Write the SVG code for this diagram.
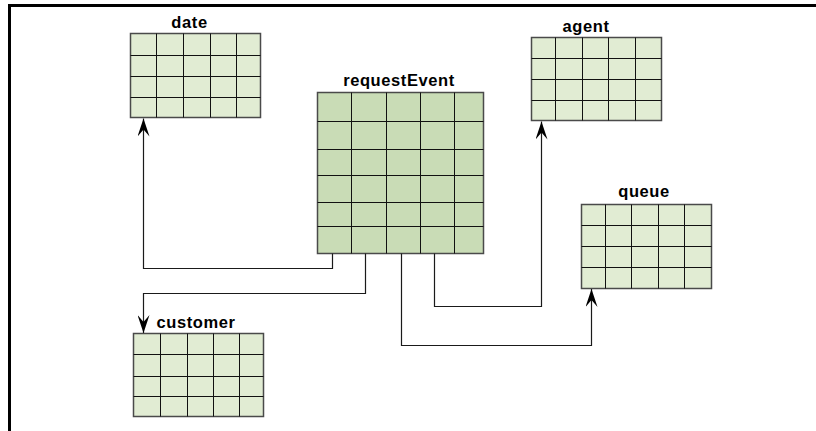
<svg xmlns="http://www.w3.org/2000/svg" width="816" height="431" viewBox="0 0 816 431">
  <style>
    .frame { fill: none; stroke: #000; stroke-width: 3; }
    .tbl { fill: #e1ecd3; stroke: #4a4a4a; stroke-width: 1.5; }
    .tbl.main { fill: #c9dcb6; }
    .grid { fill: none; stroke: #111; stroke-width: 1; }
    .title { font-family: "Liberation Sans", Arial, sans-serif; font-weight: bold; font-size: 16.5px; letter-spacing: 0.6px; fill: #000; text-anchor: middle; }
    .conn { fill: none; stroke: #1a1a1a; stroke-width: 1.2; }
  </style>
  <defs>
    <marker id="arrow" viewBox="0 0 18 12" refX="18" refY="6" markerWidth="18" markerHeight="12" markerUnits="userSpaceOnUse" orient="auto">
      <path d="M18,6 L0,0 L7,6 L0,12 Z" fill="#000"/>
    </marker>
  </defs>

  <rect width="816" height="431" fill="#fff"/>
  <path class="frame" d="M9.5,431 V5.5 H816"/>

  <g id="date">
    <text class="title" x="189.5" y="28">date</text>
    <rect class="tbl" x="130.5" y="33.5" width="130" height="84"/>
    <path class="grid" d="M156.5,33.5 V117.5 M183.5,33.5 V117.5 M210.5,33.5 V117.5 M236.5,33.5 V117.5 M130.5,55.5 H260.5 M130.5,76.5 H260.5 M130.5,97.5 H260.5"/>
  </g>

  <g id="requestEvent">
    <text class="title" x="399" y="86">requestEvent</text>
    <rect class="tbl main" x="317.5" y="92.5" width="166" height="161"/>
    <path class="grid" d="M351.5,92.5 V253.5 M386.5,92.5 V253.5 M420.5,92.5 V253.5 M454.5,92.5 V253.5 M317.5,121.5 H483.5 M317.5,149.5 H483.5 M317.5,175.5 H483.5 M317.5,202.5 H483.5 M317.5,226.5 H483.5"/>
  </g>

  <g id="agent">
    <text class="title" x="586" y="32">agent</text>
    <rect class="tbl" x="531.5" y="37.5" width="130" height="83"/>
    <path class="grid" d="M555.5,37.5 V120.5 M582.5,37.5 V120.5 M608.5,37.5 V120.5 M635.5,37.5 V120.5 M531.5,58.5 H661.5 M531.5,79.5 H661.5 M531.5,100.5 H661.5"/>
  </g>

  <g id="queue">
    <text class="title" x="644" y="197">queue</text>
    <rect class="tbl" x="581.5" y="204.5" width="130" height="84"/>
    <path class="grid" d="M605.5,204.5 V288.5 M631.5,204.5 V288.5 M658.5,204.5 V288.5 M684.5,204.5 V288.5 M581.5,225.5 H711.5 M581.5,246.5 H711.5 M581.5,267.5 H711.5"/>
  </g>

  <g id="customer">
    <text class="title" x="196" y="328">customer</text>
    <rect class="tbl" x="133.5" y="333.5" width="130" height="83"/>
    <path class="grid" d="M160.5,333.5 V416.5 M187.5,333.5 V416.5 M213.5,333.5 V416.5 M239.5,333.5 V416.5 M133.5,354.5 H263.5 M133.5,376.5 H263.5 M133.5,396.5 H263.5"/>
  </g>

  <g id="connectors">
    <path class="conn" d="M332.5,253.5 V268.5 H143.5 V118.5" marker-end="url(#arrow)"/>
    <path class="conn" d="M365.5,253.5 V293.5 H143.5 V333" marker-end="url(#arrow)"/>
    <path class="conn" d="M401.5,253.5 V345.5 H591.5 V289" marker-end="url(#arrow)"/>
    <path class="conn" d="M434.5,253.5 V306.5 H541.5 V121.5" marker-end="url(#arrow)"/>
  </g>
</svg>
